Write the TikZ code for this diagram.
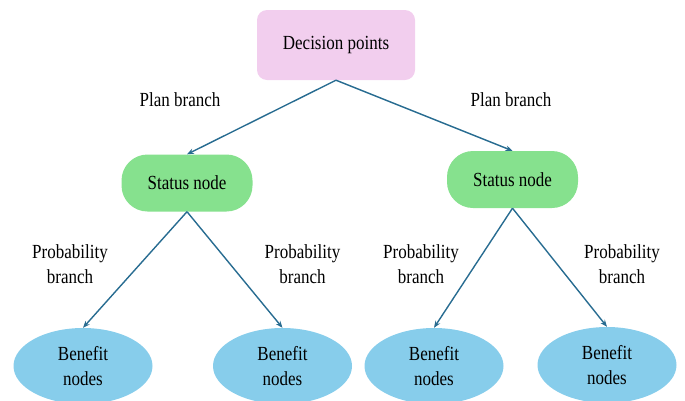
\documentclass[tikz,border=0pt]{standalone}
\usepackage{fontspec}
\setmainfont{Liberation Serif}
\newfontfamily\tf{Liberation Serif}[FakeStretch=0.85]
\usetikzlibrary{shapes.geometric,arrows.meta}
\definecolor{pinkbox}{RGB}{242,206,238}
\definecolor{greenbox}{RGB}{134,225,142}
\definecolor{bluebox}{RGB}{135,205,235}
\definecolor{linecol}{RGB}{40,108,145}
\begin{document}
\begin{tikzpicture}[x=1pt,y=-1pt,
  txt/.style={font=\tf\fontsize{20}{25}\selectfont,align=center,text=black},
  decbox/.style={txt,fill=pinkbox,rounded corners=10pt,minimum width=158pt,minimum height=70pt,inner sep=0pt},
  statbox/.style={txt,fill=greenbox,rounded corners=26pt,minimum width=131pt,minimum height=57pt,inner sep=0pt},
  benbox/.style={txt,ellipse,fill=bluebox,minimum width=139pt,minimum height=76pt,inner sep=0pt},
  conn/.style={draw=linecol,line width=1.4pt,-{Stealth[length=7pt,width=5.5pt]}},
  lbl/.style={txt}
]
\useasboundingbox (0,0) rectangle (685,400);
\node[decbox] (dp) at (336,45) {Decision points};
\node[statbox] (s1) at (187,183) {Status node};
\node[statbox] (s2) at (512.5,179.5) {Status node};
\node[benbox] (b1) at (83,366) {Benefit\\nodes};
\node[benbox] (b2) at (282.5,366) {Benefit\\nodes};
\node[benbox] (b3) at (434,366) {Benefit\\nodes};
\node[benbox] (b4) at (607,365) {Benefit\\nodes};
\draw[conn] (dp.south) -- (s1.north);
\draw[conn] (dp.south) -- (s2.north);
\draw[conn] (s1.south) -- (b1.north);
\draw[conn] (s1.south) -- (b2.north);
\draw[conn] (s2.south) -- (b3.north);
\draw[conn] (s2.south) -- (b4.north);
\node[lbl] (l1) at (180,100) {Plan branch};
\node[lbl] (l2) at (511,100) {Plan branch};
\node[lbl] (l3) at (70,264) {Probability\\branch};
\node[lbl] (l4) at (302.5,264) {Probability\\branch};
\node[lbl] (l5) at (421,264) {Probability\\branch};
\node[lbl] (l6) at (622,264) {Probability\\branch};
\end{tikzpicture}
\end{document}
